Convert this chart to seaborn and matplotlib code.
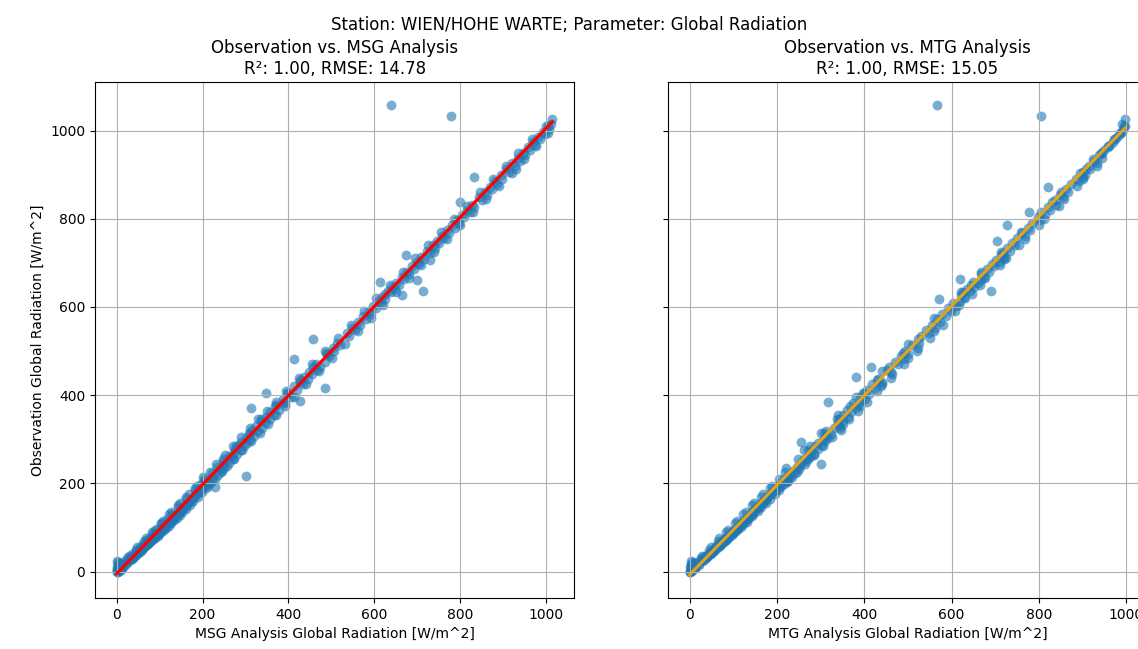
import pandas as pd
import numpy as np
import matplotlib
matplotlib.use('Agg')
import matplotlib.pyplot as plt
import seaborn as sns

# observed global radiation at the station [W/m^2]
obs = [0, 0, 1, 2, 3, 4, 5, 7, 9, 10, 12, 14, 16, 18, 20, 22, 24, 25, 27, 29,
       31, 33, 35, 37, 39, 41, 43, 45, 47, 49,
       51, 53, 55, 57, 59, 61, 63, 65, 67, 69, 71, 73, 75, 77, 79, 81, 83, 85, 87, 89,
       92, 94, 96, 99, 101, 104, 107, 110, 113, 116, 119, 122, 125, 128, 131, 134, 138, 142, 146, 150,
       155, 160, 165, 170, 175,
       180, 185, 190, 192, 195, 198, 200, 203, 206, 210, 214, 217, 220, 224, 228, 232, 236, 240, 243, 247,
       251, 255, 259, 263, 267, 271, 275, 279, 284, 288, 292, 294, 298, 303, 308, 313, 318, 321, 326, 331,
       336,
       341, 346, 351, 356, 361, 366, 372, 377, 382, 385, 387, 392, 397, 402, 406, 411, 416, 420, 425, 430,
       436, 442, 447, 453, 458, 465, 470, 476, 482, 488, 494, 500, 507, 513, 519, 528, 534, 540, 547, 553,
       560, 566, 572, 579, 585, 591, 597,
       603, 608, 613, 617, 622, 627, 629, 633, 636, 637, 641, 645, 650, 655, 657, 661, 663, 668, 674, 680,
       686, 692, 698, 703, 707, 709, 714, 718, 723, 728, 734, 740, 745, 750, 756, 762, 768, 774, 780, 785,
       791, 797, 803, 808, 815, 820, 826, 832, 837, 843, 849, 855, 861, 867, 873, 879, 885, 891, 894, 900,
       906, 912, 914, 920, 926, 932, 938, 944, 950, 956, 962, 968, 974, 980, 986, 992, 998, 1004, 1010, 1016,
       1026, 1057, 1033,
       5, 8, 11, 15, 19, 23, 28, 32, 36, 40, 44, 48, 52, 56, 60, 64, 68, 72, 76, 80,
       84, 88, 93, 97, 102, 106, 111, 115, 120, 124, 129, 133, 137, 141, 145, 149, 153, 157, 161, 166,
       171, 176, 181, 186, 191, 196,
       30, 50, 70, 90, 110, 130, 150, 170, 190, 210,
       15, 35, 55, 75, 95, 115, 135, 155, 175, 195, 225, 255, 285, 315, 345, 375, 405, 435, 465, 495,
       205, 215, 225, 235, 245, 255, 265, 275, 285, 295, 305, 315, 325, 335, 345, 355, 365, 375, 385, 395,
       410, 425, 440, 455, 470, 485, 500, 515, 530, 545, 560, 575, 590,
       605, 620, 635, 650, 665, 680, 695, 710, 725, 740, 755, 770, 785, 800, 815, 830, 845, 860, 875, 890,
       905, 920, 935, 950, 965, 980, 995, 1010]

# MSG analysis at the same times
msg = [0, 3, 0, 6, 1, 9, 1, 2, 12, 4, 0, 8, 2, 5, 9, 3, 1, 20, 31, 35,
       38, 30, 42, 45, 36, 49, 48, 53, 44, 58,
       57, 62, 53, 66, 64, 71, 61, 76, 73, 80, 70, 85, 81, 90, 77, 95, 90, 99, 85, 104,
       100, 110, 93, 115, 108, 121, 104, 127, 122, 133, 117, 140, 133, 147, 129, 153, 148, 161, 143, 170,
       165, 178, 162, 190, 185,
       198, 183, 208, 230, 212, 196, 218, 214, 203, 228, 225, 301, 236, 222, 245, 240, 233, 256, 250, 262,
       248, 270, 265, 262, 280, 274, 290, 276, 296, 285, 303, 289, 310, 300, 319, 310, 330, 316, 338, 325,
       346,
       337, 357, 348, 367, 356, 377, 313, 372, 392, 390, 426, 388, 406, 398, 348, 420, 486, 414, 433, 426,
       445, 437, 455, 449, 466, 474, 464, 485, 414, 495, 489, 507, 503, 520, 514, 457, 541, 536, 555, 548,
       567, 562, 580, 574, 592, 588, 604,
       598, 616, 609, 624, 618, 664, 624, 640, 632, 714, 648, 641, 657, 651, 613, 699, 670, 664, 681, 676,
       693, 688, 705, 699, 730, 716, 710, 675, 730, 724, 741, 736, 752, 746, 763, 758, 775, 770, 787, 781,
       798, 793, 810, 804, 822, 816, 833, 828, 800, 850, 845, 862, 857, 874, 869, 886, 881, 898, 832, 896,
       913, 908, 931, 927, 922, 939, 934, 951, 946, 963, 958, 975, 970, 987, 982, 999, 994, 1008, 1006, 1012,
       1015, 639, 778,
       7, 10, 14, 18, 23, 27, 32, 37, 41, 45, 50, 54, 58, 63, 67, 72, 76, 81, 85, 90,
       94, 98, 103, 108, 113, 117, 122, 126, 131, 135, 140, 144, 148, 152, 156, 160, 164, 168, 172, 177,
       182, 186, 191, 196, 200, 205,
       24, 44, 63, 83, 102, 122, 142, 162, 182, 203,
       9, 28, 48, 68, 88, 107, 127, 147, 168, 187, 217, 247, 277, 307, 337, 368, 397, 427, 458, 487,
       222, 200, 242, 250, 232, 272, 252, 292, 270, 312, 290, 333, 310, 352, 330, 372, 350, 392, 370, 412,
       395, 442, 425, 472, 455, 502, 485, 532, 515, 562, 545, 592, 575,
       620, 605, 650, 636, 680, 666, 710, 696, 740, 726, 770, 756, 800, 786, 830, 816, 860, 846, 890, 876,
       920, 906, 950, 936, 978, 968, 1005, 1000]

# MTG analysis at the same times
mtg = [1, 0, 4, 0, 5, 2, 8, 3, 10, 0, 6, 2, 11, 3, 4, 8, 2, 22, 33, 28,
       37, 40, 36, 44, 47, 45, 52, 49, 55, 56,
       60, 58, 63, 61, 70, 66, 72, 70, 79, 74, 82, 79, 88, 84, 91, 87, 97, 93, 100, 97,
       106, 102, 110, 108, 117, 113, 121, 120, 130, 125, 133, 131, 142, 137, 146, 143, 156, 150, 163, 158,
       174, 168, 183, 178, 195,
       188, 204, 198, 205, 210, 215, 207, 222, 220, 216, 234, 226, 229, 240, 236, 250, 245, 252, 301, 255,
       266, 261, 276, 270, 285, 278, 272, 294, 288, 302, 294, 255, 305, 316, 311, 324, 313, 347, 330, 342,
       339,
       350, 343, 362, 352, 370, 360, 380, 385, 375, 316, 393, 401, 391, 410, 400, 405, 425, 439, 418, 440,
       431, 382, 463, 460, 452, 416, 478, 470, 490, 483, 500, 494, 524, 509, 526, 522, 530, 548, 541, 561,
       554, 573, 566, 586, 579, 598, 591,
       610, 602, 620, 571, 628, 622, 647, 627, 690, 643, 636, 652, 645, 661, 650, 667, 620, 674, 668, 686,
       680, 698, 692, 710, 701, 721, 719, 712, 717, 734, 728, 746, 739, 705, 750, 768, 762, 780, 774, 728,
       785, 803, 797, 814, 778, 826, 820, 838, 831, 837, 855, 849, 867, 861, 820, 873, 891, 885, 900, 906,
       900, 918, 908, 914, 932, 926, 944, 938, 945, 950, 958, 962, 970, 974, 980, 985, 990, 993, 995, 990,
       997, 566, 804,
       6, 12, 14, 20, 22, 29, 31, 38, 40, 46, 48, 55, 56, 64, 65, 73, 74, 82, 83, 91,
       92, 99, 101, 109, 111, 118, 120, 127, 129, 136, 138, 145, 146, 153, 154, 161, 162, 169, 170, 178,
       180, 187, 189, 197, 198, 206,
       25, 45, 64, 84, 103, 123, 143, 163, 183, 204,
       10, 29, 49, 68, 87, 108, 128, 148, 167, 188, 218, 248, 276, 308, 338, 367, 398, 428, 457, 488,
       225, 230, 245, 220, 265, 270, 285, 262, 305, 310, 325, 300, 345, 350, 365, 340, 385, 390, 405, 380,
       430, 440, 460, 440, 490, 500, 520, 500, 550, 560, 580, 560, 608,
       618, 630, 622, 665, 676, 668, 710, 724, 714, 755, 768, 760, 800, 812, 805, 845, 858, 850, 888, 900,
       895, 932, 925, 942, 958, 972, 985, 998]

assert len(obs) == len(msg) == len(mtg)

df = pd.DataFrame({'obs': obs, 'msg': msg, 'mtg': mtg})

fig, axes = plt.subplots(1, 2, figsize=(11.38, 6.49), dpi=100, sharey=True)

# MSG panel
sns.regplot(x='msg', y='obs', data=df, ax=axes[0], ci=None, color='C0',
            scatter_kws={'alpha': 0.6, 's': 50, 'linewidths': 0}, line_kws={'color': 'red'})
axes[0].set_title('Observation vs. MSG Analysis\nR\u00b2: 1.00, RMSE: 14.78')
axes[0].set_xlabel('MSG Analysis Global Radiation [W/m^2]')
axes[0].set_ylabel('Observation Global Radiation [W/m^2]')
axes[0].grid(True)

# MTG panel
sns.regplot(x='mtg', y='obs', data=df, ax=axes[1], ci=None, color='C0',
            scatter_kws={'alpha': 0.6, 's': 50, 'linewidths': 0}, line_kws={'color': '#e3a21a'})
axes[1].set_title('Observation vs. MTG Analysis\nR\u00b2: 1.00, RMSE: 15.05')
axes[1].set_xlabel('MTG Analysis Global Radiation [W/m^2]')
axes[1].set_ylabel('')
axes[1].grid(True)

fig.suptitle('Station: WIEN/HOHE WARTE; Parameter: Global Radiation', y=0.975)

# place the panels like the original (right one runs slightly off the canvas)
axes[0].set_position([0.0835, 0.0786, 0.421, 0.795])
axes[1].set_position([0.587, 0.0786, 0.421, 0.795])

plt.savefig('out.png', dpi=100)
